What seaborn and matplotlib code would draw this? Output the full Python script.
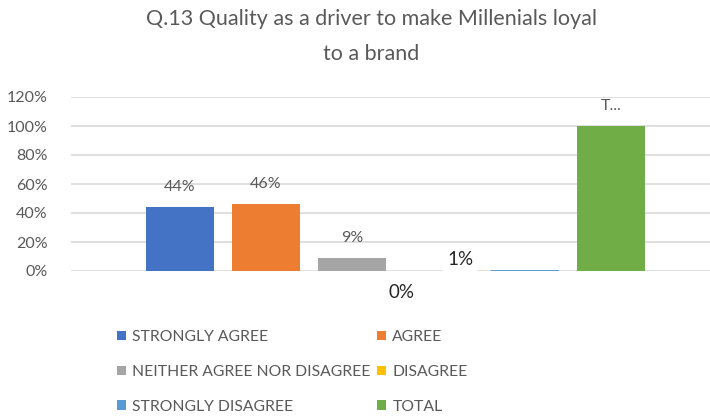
import matplotlib
matplotlib.use("Agg")
import matplotlib.pyplot as plt
from matplotlib.patches import Patch
from matplotlib.ticker import PercentFormatter
import seaborn as sns
import pandas as pd

# Survey responses (share of respondents)
categories = ["STRONGLY AGREE", "AGREE", "NEITHER AGREE NOR DISAGREE",
              "DISAGREE", "STRONGLY DISAGREE", "TOTAL"]
shares = [0.44, 0.46, 0.09, 0.00, 0.01, 1.00]
labels = ["44%", "46%", "9%", "0%", "1%", "T..."]
colors = ["#4472C4", "#ED7D31", "#A5A5A5", "#FFC000", "#5B9BD5", "#70AD47"]
y_ticks = [0.0, 0.2, 0.4, 0.6, 0.8, 1.0, 1.2]

sns.set_theme(style="white")
plt.rcParams["font.family"] = ["Lato", "DejaVu Sans"]
TXT = "#595959"
GRID = "#D9D9D9"

W, H = 710, 418
fig = plt.figure(figsize=(W / 100, H / 100), dpi=100)
fig.patch.set_facecolor("white")

def px(x, y):
    return x / W, 1 - y / H

# plot area: 0% at y=271, 120% at y=97, left edge x=71
left, top = px(71, 97)
_, bottom = px(0, 271)
ax = fig.add_axes([left, bottom, 1 - left, top - bottom])

df = pd.DataFrame({"response": categories, "share": shares})
sns.barplot(data=df, x="response", y="share", hue="response",
            order=categories, hue_order=categories, palette=colors,
            saturation=1, width=0.786, linewidth=0, legend=False, ax=ax)

ax.set_ylim(0, 1.2)
ax.set_xlim(-1.26, 6.145)
ax.set_yticks(y_ticks)
ax.yaxis.set_major_formatter(PercentFormatter(1.0, decimals=0))
ax.set_xticks([])
ax.set_xlabel("")
ax.set_ylabel("")
ax.grid(axis="y", color=GRID, linewidth=1.2)
ax.set_axisbelow(True)
for s in ax.spines.values():
    s.set_visible(False)
ax.tick_params(axis="y", length=0, pad=17, labelsize=11.5, labelcolor=TXT)

# value labels above the bars
for i in (0, 1, 2, 5):
    ax.annotate(labels[i], (i, shares[i]), xytext=(0, 14.5),
                textcoords="offset points", ha="center", va="center",
                fontsize=11.5, color=TXT)

# labels for the two tiny bars, moved to sit clear of the axis
box = dict(facecolor="white", edgecolor="none", pad=3)
ax.text(3.25, 0.076, labels[4], ha="center", va="center", fontsize=13.5,
        color="#262626", bbox=box, clip_on=False, zorder=5)
ax.text(2.57, -0.145, labels[3], ha="center", va="center", fontsize=13.5,
        color="#262626", bbox=box, clip_on=False, zorder=5)

# title
fig.text(*px(371, 19), "Q.13 Quality as a driver to make Millenials loyal",
         ha="center", va="center", fontsize=15.5, color=TXT)
fig.text(*px(371, 54), "to a brand", ha="center", va="center",
         fontsize=15.5, color=TXT)

# legend laid out row by row in two columns
handles = [Patch(facecolor=c, edgecolor="none", label=l)
           for c, l in zip(colors, categories)]
order = [0, 2, 4, 1, 3, 5]
fig.legend([handles[k] for k in order], [categories[k] for k in order],
           ncol=2, loc="center left", bbox_to_anchor=px(117, 372),
           frameon=False, fontsize=11.3, labelcolor=TXT,
           handlelength=0.55, handleheight=0.55, handletextpad=0.4,
           labelspacing=1.32, columnspacing=0.45, borderpad=0,
           borderaxespad=0)

fig.savefig("out.png", dpi=100)
